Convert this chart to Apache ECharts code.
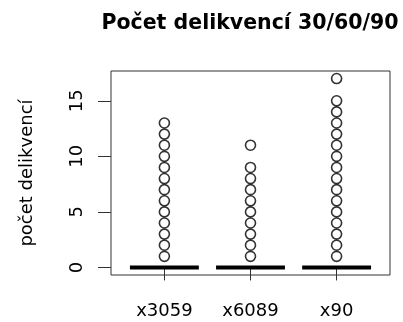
<!DOCTYPE html>
<html>
<head>
<meta charset="utf-8">
<script src="https://cdn.jsdelivr.net/npm/echarts@6/dist/echarts.min.js"></script>
<style>html,body{margin:0;padding:0;background:#fff}#c{width:403px;height:322px}</style>
</head>
<body>
<div id="c"></div>
<script>
var categories = ['x3059', 'x6089', 'x90'];
var medians = [0, 0, 0];
var outliers3059 = [1, 2, 3, 4, 5, 6, 7, 8, 9, 10, 11, 12, 13];
var outliers6089 = [1, 2, 3, 4, 5, 6, 7, 8, 9, 11];
var outliers90 = [1, 2, 3, 4, 5, 6, 7, 8, 9, 10, 11, 12, 13, 14, 15, 17];
var yTicks = [0, 5, 10, 15];
var titleText = 'Počet delikvencí 30/60/90';
var yName = 'počet delikvencí';

var outlierGroups = [outliers3059, outliers6089, outliers90];
var outlierData = [];
outlierGroups.forEach(function (arr, i) {
  arr.forEach(function (v) { outlierData.push([i + 1, v]); });
});
var medianData = medians.map(function (m, i) { return [i + 1, m]; });
var xPos = categories.map(function (c, i) { return i + 1; });

var FONT = 'DejaVu Sans';
var chart = echarts.init(document.getElementById('c'), null, {renderer: 'canvas'});
chart.setOption({
  animation: false,
  backgroundColor: '#fff',
  title: {
    text: titleText,
    left: 245, top: 8, textAlign: 'center',
    textStyle: {fontFamily: FONT, fontSize: 20.5, fontWeight: 'bold', color: '#000'}
  },
  grid: {left: 111, right: 13, top: 71, bottom: 47, show: true, borderColor: '#333', borderWidth: 1, backgroundColor: 'transparent'},
  xAxis: {
    type: 'value', min: 0.38, max: 3.62,
    axisLine: {show: false},
    splitLine: {show: false},
    axisTick: {show: true, customValues: xPos, length: 13, lineStyle: {color: '#333'}},
    axisLabel: {
      customValues: xPos, margin: 27,
      formatter: function (v) { return categories[Math.round(v) - 1]; },
      fontFamily: FONT, fontSize: 18, color: '#000'
    }
  },
  yAxis: {
    type: 'value', min: -0.68, max: 17.68,
    name: yName, nameLocation: 'middle', nameGap: 75, nameRotate: 90,
    nameTextStyle: {fontFamily: FONT, fontSize: 18, color: '#000'},
    axisLine: {show: false},
    splitLine: {show: false},
    axisTick: {show: true, customValues: yTicks, length: 13, lineStyle: {color: '#333'}},
    axisLabel: {
      customValues: yTicks, rotate: 90, margin: 25,
      fontFamily: FONT, fontSize: 18, color: '#000'
    }
  },
  series: [
    {
      type: 'custom',
      data: medianData,
      renderItem: function (params, api) {
        var x = api.value(0), y = api.value(1);
        var p1 = api.coord([x - 0.4, y]);
        var p2 = api.coord([x + 0.4, y]);
        return {
          type: 'line',
          shape: {x1: p1[0], y1: p1[1], x2: p2[0], y2: p2[1]},
          style: {stroke: '#000', lineWidth: 4}
        };
      },
      z: 3
    },
    {
      type: 'scatter',
      data: outlierData,
      symbol: 'circle',
      symbolSize: 10,
      itemStyle: {color: 'rgba(0,0,0,0)', borderColor: '#000', borderWidth: 1.6},
      z: 4
    }
  ]
});
</script>
</body>
</html>
